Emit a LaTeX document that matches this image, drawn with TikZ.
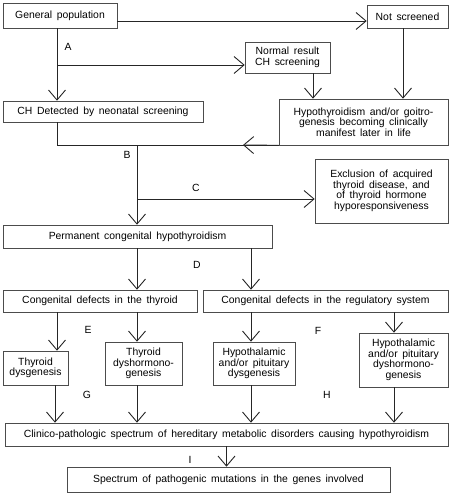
\documentclass[tikz,border=0pt]{standalone}
\usepackage{fontspec}
\setmainfont{Liberation Sans}[WordSpace=1.6]
\usetikzlibrary{arrows.meta}
\begin{document}
\begin{tikzpicture}[x=1pt,y=-1pt,
  box/.style={draw=black!70, line width=0.6pt, align=center, inner sep=0pt, font=\fontsize{10.4}{10.5}\selectfont},
  conn/.style={draw=black!85, line width=0.9pt},
  arr/.style={conn, -{Straight Barb[length=10pt,width=17pt]}},
  lab/.style={font=\fontsize{10.4}{12}\selectfont, inner sep=0pt}]
\useasboundingbox (0,0) rectangle (451,500);
% columns
\coordinate (c1) at (57,0);
\coordinate (c1b) at (55,0);
\coordinate (c2) at (137,0);
\coordinate (c3) at (251,0);
\coordinate (c4) at (394,0);
\coordinate (c5) at (313,0);
\coordinate (c6) at (403,0);
\coordinate (r1) at (0,21);
\coordinate (jA) at (57,65);
\coordinate (jB) at (137,145);
\coordinate (jC) at (137,199);
\coordinate (mB) at (243,145);
% boxes
\node[box, minimum width=114pt, minimum height=25pt] (gp) at (60,15.5) {General population};
\node[box, minimum width=81pt, minimum height=23pt] (ns) at (407.5,16.5) {Not screened};
\node[box, minimum width=85pt, minimum height=31pt] (nr) at (287.5,57.5) {Normal result\\CH screening};
\node[box, minimum width=200pt, minimum height=21pt] (ch) at (103,111.5) {CH Detected by neonatal screening};
\node[box, minimum width=169pt, minimum height=46pt] (hy) at (363.5,122) {Hypothyroidism and/or goitro-\\genesis becoming clinically\\manifest later in life};
\node[box, minimum width=133pt, minimum height=64pt] (ex) at (381.5,191) {Exclusion of acquired\\thyroid disease, and\\of thyroid hormone\\hyporesponsiveness};
\node[box, minimum width=269pt, minimum height=23pt] (pc) at (137.5,236.5) {Permanent congenital hypothyroidism};
\node[box, minimum width=194pt, minimum height=22pt] (ct) at (100,301) {Congenital defects in the thyroid};
\node[box, minimum width=245pt, minimum height=22pt] (cr) at (325.5,301) {Congenital defects in the regulatory system};
\node[box, minimum width=65pt, minimum height=34pt] (td) at (35.5,368) {Thyroid\\dysgenesis};
\node[box, minimum width=77pt, minimum height=43pt] (tdh) at (143.5,363.5) {Thyroid\\dyshormono-\\genesis};
\node[box, minimum width=82pt, minimum height=43pt] (hpd) at (254,363.5) {Hypothalamic\\and/or pituitary\\dysgenesis};
\node[box, minimum width=89pt, minimum height=54pt] (hpdh) at (403.5,360) {Hypothalamic\\and/or pituitary\\dyshormono-\\genesis};
\node[box, minimum width=443pt, minimum height=23pt] (cl) at (226.5,434.5) {Clinico-pathologic spectrum of hereditary metabolic disorders causing hypothyroidism};
\node[box, minimum width=323pt, minimum height=25pt] (sp) at (228.5,479.5) {Spectrum of pathogenic mutations in the genes involved};
% labels
\node[lab] (lA) at (68,47) {A};
\node[lab] (lB) at (127,155) {B};
\node[lab] (lC) at (196,188) {C};
\node[lab] (lD) at (197,265) {D};
\node[lab] (lE) at (88,330) {E};
\node[lab] (lF) at (318,331) {F};
\node[lab] (lG) at (87,395) {G};
\node[lab] (lH) at (327,395) {H};
\node[lab] (lI) at (190,460) {I};
% connectors
\draw[arr] (gp.east |- r1) -- (ns.west |- r1);
\draw[arr] (gp.south -| c1) -- (ch.north -| c1);
\draw[arr] (jA) -- (nr.west |- jA);
\draw[arr] (nr.south -| c5) -- (hy.north -| c5);
\draw[arr] (ns.south -| c6) -- (hy.north -| c6);
\draw[conn] (ch.south -| c1) |- (hy.south west);
\draw[arr] (hy.south west) -- (mB);
\draw[arr] (jB) -- (pc.north -| jB);
\draw[arr] (jC) -- (ex.west |- jC);
\draw[arr] (pc.south -| c2) -- (ct.north -| c2);
\draw[arr] (pc.south -| c3) -- (cr.north -| c3);
\draw[arr] (ct.south -| c1) -- (td.north -| c1);
\draw[arr] (ct.south -| c2) -- (tdh.north -| c2);
\draw[arr] (cr.south -| c3) -- (hpd.north -| c3);
\draw[arr] (cr.south -| c4) -- (hpdh.north -| c4);
\draw[arr] (td.south -| c1b) -- (cl.north -| c1b);
\draw[arr] (tdh.south -| c2) -- (cl.north -| c2);
\draw[arr] (hpd.south -| c3) -- (cl.north -| c3);
\draw[arr] (hpdh.south -| c4) -- (cl.north -| c4);
\draw[arr] (cl.south) -- (sp.north -| cl.south);
\end{tikzpicture}
\end{document}
